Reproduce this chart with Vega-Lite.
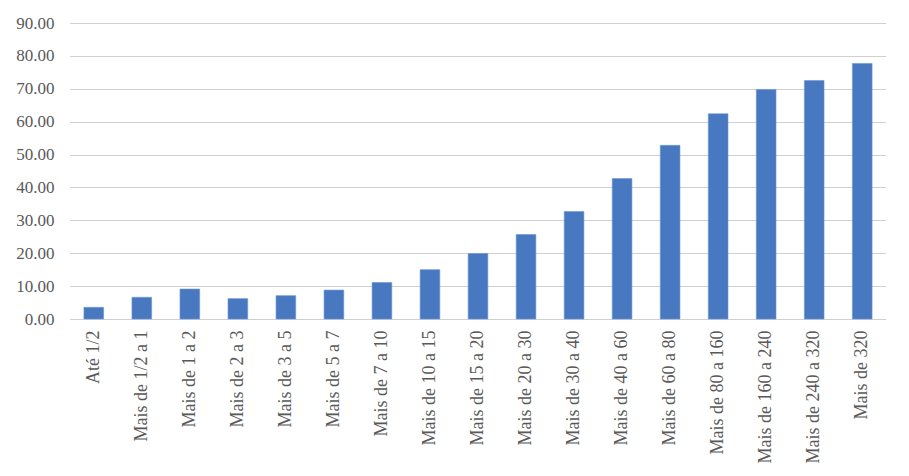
{
  "$schema": "https://vega.github.io/schema/vega-lite/v6.json",
  "autosize": "none",
  "width": 816,
  "height": 296,
  "padding": {"left": 70, "top": 23, "right": 23, "bottom": 157},
  "background": "white",
  "config": {
    "view": {"stroke": null},
    "axis": {
      "labelFont": "Liberation Serif",
      "labelColor": "#595959",
      "domain": false,
      "ticks": false,
      "title": null
    }
  },
  "data": {
    "values": [
      {"faixa": "Até 1/2", "valor": 3.55},
      {"faixa": "Mais de 1/2 a 1", "valor": 6.6},
      {"faixa": "Mais de 1 a 2", "valor": 9.1},
      {"faixa": "Mais de 2 a 3", "valor": 6.2},
      {"faixa": "Mais de 3 a 5", "valor": 7.1},
      {"faixa": "Mais de 5 a 7", "valor": 8.8},
      {"faixa": "Mais de 7 a 10", "valor": 11.1},
      {"faixa": "Mais de 10 a 15", "valor": 15.0},
      {"faixa": "Mais de 15 a 20", "valor": 19.9},
      {"faixa": "Mais de 20 a 30", "valor": 25.7},
      {"faixa": "Mais de 30 a 40", "valor": 32.7},
      {"faixa": "Mais de 40 a 60", "valor": 42.7},
      {"faixa": "Mais de 60 a 80", "valor": 52.8},
      {"faixa": "Mais de 80 a 160", "valor": 62.4},
      {"faixa": "Mais de 160 a 240", "valor": 69.8},
      {"faixa": "Mais de 240 a 320", "valor": 72.5},
      {"faixa": "Mais de 320", "valor": 77.7}
    ]
  },
  "mark": {"type": "bar", "color": "#4878c0", "stroke": "#6a96d8", "strokeWidth": 0.6},
  "encoding": {
    "x": {
      "field": "faixa",
      "type": "nominal",
      "sort": null,
      "scale": {"paddingInner": 0.59, "paddingOuter": 0.29},
      "axis": {
        "labelAngle": -90,
        "labelAlign": "right",
        "labelBaseline": "middle",
        "labelPadding": 11,
        "labelFontSize": 18,
        "grid": false
      }
    },
    "y": {
      "field": "valor",
      "type": "quantitative",
      "scale": {"domain": [0, 90]},
      "axis": {
        "values": [0, 10, 20, 30, 40, 50, 60, 70, 80, 90],
        "format": ".2f",
        "labelFontSize": 17,
        "labelPadding": 16,
        "grid": true,
        "gridColor": "#a0a0a0",
        "gridWidth": 1,
        "gridDash": [1, 1]
      }
    }
  }
}
